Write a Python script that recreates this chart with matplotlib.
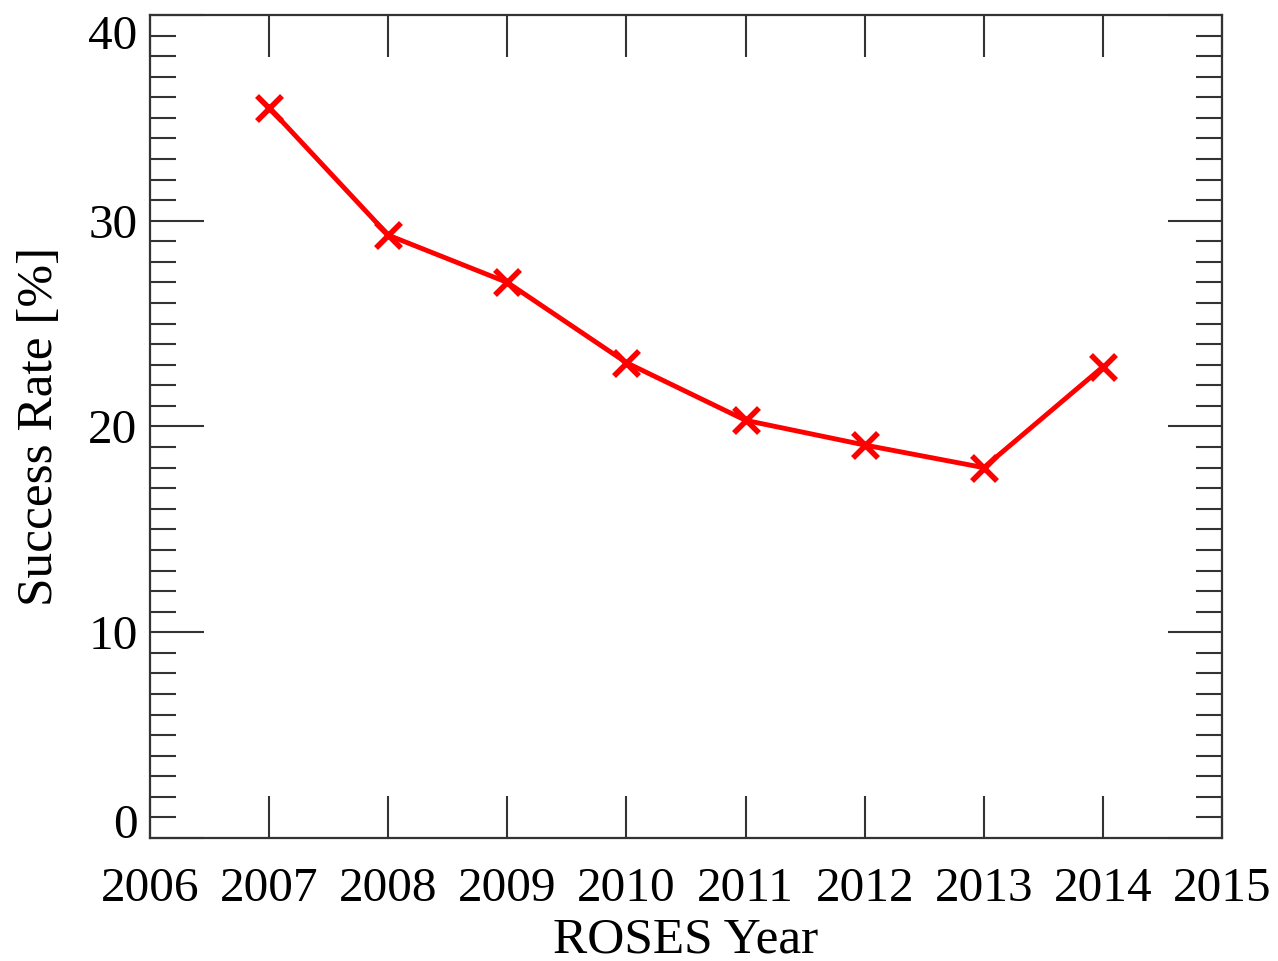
import matplotlib
matplotlib.use("Agg")
import matplotlib.pyplot as plt
from matplotlib.ticker import FixedLocator, MultipleLocator

# ROSES success rate per solicitation year
years = [2007, 2008, 2009, 2010, 2011, 2012, 2013, 2014]
success_rate = [35.5, 29.3, 27.0, 23.1, 20.3, 19.1, 18.0, 22.9]

x_ticks = list(range(2006, 2016))
y_ticks = [0, 10, 20, 30, 40]

plt.rcParams["font.family"] = ["Liberation Serif", "DejaVu Serif"]

fig = plt.figure(figsize=(12.78, 9.61), dpi=100)
ax = fig.add_axes([0.1174, 0.128, 0.8388, 0.8564])

ax.plot(years, success_rate, color="red", lw=3.5, marker="x",
        markersize=18, markeredgewidth=4, solid_joinstyle="round")

ax.set_xlim(2006, 2015)
ax.set_ylim(0, 40)
ax.xaxis.set_major_locator(FixedLocator(x_ticks))
ax.yaxis.set_major_locator(FixedLocator(y_ticks))
ax.yaxis.set_minor_locator(MultipleLocator(1))

frame_col = "#333333"
for s in ax.spines.values():
    s.set_linewidth(1.6)
    s.set_color(frame_col)

ax.tick_params(axis="x", which="major", direction="in", top=True, bottom=True,
               length=30, width=1.5, color=frame_col, labelsize=35.5, pad=21)
ax.tick_params(axis="y", which="major", direction="in", left=True, right=True,
               length=39, width=1.5, color=frame_col, labelsize=35.5, pad=9)
ax.tick_params(axis="y", which="minor", direction="in", left=True, right=True,
               length=19, width=1.5, color=frame_col)

ax.set_xticklabels([str(t) for t in x_ticks])
ax.set_yticklabels([str(t) for t in y_ticks])
ylabels = ax.get_yticklabels()
ylabels[0].set_va("baseline")
ylabels[-1].set_va("top")

ax.set_xlabel("ROSES Year", fontsize=37, labelpad=4)
ax.set_ylabel("Success Rate [%]", fontsize=37, labelpad=18)

fig.savefig("out.png", dpi=100)
